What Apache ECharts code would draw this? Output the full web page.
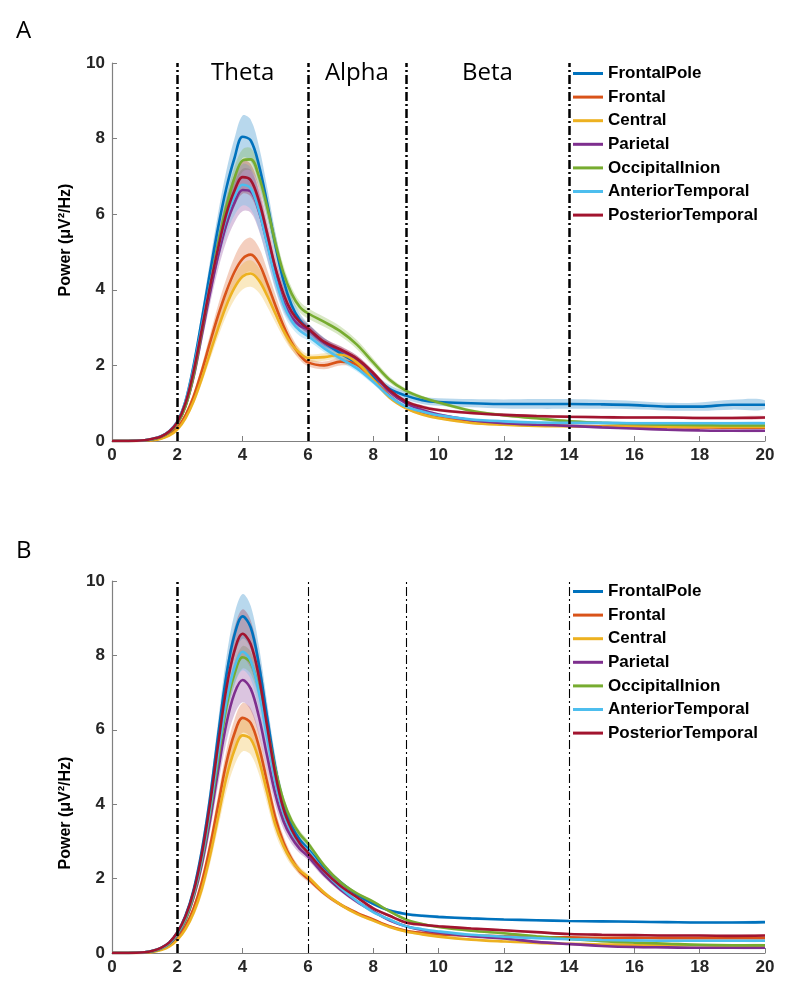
<!DOCTYPE html>
<html>
<head>
<meta charset="utf-8">
<script src="https://cdn.jsdelivr.net/npm/echarts@6/dist/echarts.min.js"></script>
<style>
  html, body { margin: 0; padding: 0; background: #fff; }
  #chart { width: 792px; height: 1002px; }
</style>
</head>
<body>
<div id="chart"></div>
<script>
// frequency grid (Hz)
const freqs = [0, 0.5, 1, 1.25, 1.5, 1.75, 2, 2.25, 2.5, 2.75, 3, 3.25, 3.5, 3.75, 4, 4.25, 4.5, 4.75, 5, 5.25, 5.5, 5.75, 6,
  6.5, 7, 7.5, 8, 8.5, 9, 9.5, 10, 11, 12, 13, 14, 15, 16, 17, 18, 19, 20];
const regions = ['FrontalPole', 'Frontal', 'Central', 'Parietal', 'OccipitalInion', 'AnteriorTemporal', 'PosteriorTemporal'];
const bandEdges = [2, 6, 9, 14];
const bandNames = ['Theta', 'Alpha', 'Beta'];

// panel A - mean power
const aFrontalPole = [0, 0, 0.02, 0.05, 0.12, 0.25, 0.5, 1.05, 2.0, 3.2, 4.45, 5.65, 6.68, 7.48, 8.05, 7.95, 7.3, 6.3, 5.2, 4.25, 3.6, 3.2, 2.97, 2.6, 2.32, 2.05, 1.7, 1.38, 1.2, 1.08, 1.03, 1.0, 0.98, 0.98, 0.98, 0.97, 0.95, 0.91, 0.91, 0.96, 0.96];
const aFrontal = [0, 0, 0.01, 0.03, 0.07, 0.17, 0.35, 0.68, 1.18, 1.85, 2.6, 3.32, 3.95, 4.47, 4.82, 4.93, 4.7, 4.18, 3.6, 3.05, 2.6, 2.28, 2.08, 2.0, 2.1, 2.02, 1.62, 1.2, 0.88, 0.72, 0.62, 0.5, 0.45, 0.42, 0.4, 0.39, 0.38, 0.37, 0.36, 0.35, 0.35];
const aCentral = [0, 0, 0.01, 0.02, 0.06, 0.14, 0.3, 0.6, 1.05, 1.65, 2.32, 2.98, 3.58, 4.05, 4.35, 4.43, 4.25, 3.85, 3.38, 2.92, 2.56, 2.33, 2.2, 2.22, 2.28, 2.08, 1.62, 1.15, 0.87, 0.7, 0.6, 0.48, 0.43, 0.4, 0.39, 0.38, 0.38, 0.37, 0.37, 0.37, 0.37];
const aParietal = [0, 0, 0.02, 0.05, 0.11, 0.23, 0.46, 0.92, 1.7, 2.8, 3.9, 4.9, 5.72, 6.3, 6.64, 6.6, 6.08, 5.25, 4.38, 3.7, 3.28, 3.05, 2.95, 2.6, 2.4, 2.17, 1.78, 1.3, 1.0, 0.82, 0.7, 0.55, 0.47, 0.43, 0.4, 0.36, 0.33, 0.3, 0.28, 0.27, 0.27];
const aOccipitalInion = [0, 0, 0.02, 0.05, 0.11, 0.23, 0.46, 0.92, 1.75, 2.9, 4.1, 5.22, 6.18, 6.95, 7.42, 7.45, 7.0, 6.2, 5.25, 4.45, 3.9, 3.55, 3.38, 3.15, 2.9, 2.55, 2.08, 1.62, 1.33, 1.15, 1.02, 0.8, 0.68, 0.6, 0.52, 0.48, 0.45, 0.43, 0.42, 0.41, 0.41];
const aAnteriorTemporal = [0, 0, 0.02, 0.06, 0.13, 0.26, 0.52, 1.05, 1.92, 3.02, 4.12, 5.1, 5.9, 6.47, 6.78, 6.68, 6.1, 5.22, 4.32, 3.62, 3.18, 2.92, 2.78, 2.45, 2.18, 1.92, 1.57, 1.18, 0.91, 0.78, 0.68, 0.57, 0.52, 0.49, 0.48, 0.48, 0.47, 0.47, 0.47, 0.47, 0.47];
const aPosteriorTemporal = [0, 0, 0.02, 0.06, 0.12, 0.25, 0.5, 1.0, 1.85, 2.95, 4.08, 5.1, 6.0, 6.62, 6.98, 6.9, 6.35, 5.5, 4.6, 3.9, 3.42, 3.15, 2.98, 2.62, 2.42, 2.18, 1.8, 1.35, 1.05, 0.9, 0.82, 0.74, 0.69, 0.66, 0.64, 0.63, 0.62, 0.62, 0.61, 0.61, 0.62];

// panel A - standard error (shaded)
const aFrontalPoleSem = [0, 0, 0, 0.01, 0.02, 0.03, 0.05, 0.09, 0.15, 0.22, 0.3, 0.38, 0.46, 0.52, 0.56, 0.55, 0.5, 0.42, 0.34, 0.27, 0.22, 0.18, 0.15, 0.13, 0.12, 0.11, 0.1, 0.1, 0.1, 0.1, 0.1, 0.11, 0.12, 0.13, 0.13, 0.12, 0.11, 0.1, 0.11, 0.13, 0.12];
const aFrontalSem = [0, 0, 0, 0.01, 0.01, 0.02, 0.04, 0.06, 0.1, 0.15, 0.21, 0.28, 0.34, 0.4, 0.44, 0.45, 0.42, 0.36, 0.29, 0.22, 0.17, 0.13, 0.1, 0.1, 0.1, 0.09, 0.07, 0.05, 0.04, 0.04, 0.03, 0.03, 0.03, 0.03, 0.03, 0.03, 0.03, 0.03, 0.03, 0.03, 0.03];
const aCentralSem = [0, 0, 0, 0.01, 0.01, 0.02, 0.03, 0.05, 0.08, 0.12, 0.17, 0.22, 0.27, 0.31, 0.34, 0.35, 0.33, 0.29, 0.24, 0.19, 0.15, 0.12, 0.1, 0.1, 0.1, 0.09, 0.07, 0.05, 0.04, 0.04, 0.03, 0.03, 0.03, 0.03, 0.03, 0.03, 0.03, 0.03, 0.03, 0.03, 0.03];
const aParietalSem = [0, 0, 0, 0.01, 0.02, 0.03, 0.05, 0.08, 0.14, 0.21, 0.29, 0.37, 0.45, 0.52, 0.56, 0.56, 0.51, 0.43, 0.33, 0.25, 0.19, 0.15, 0.13, 0.11, 0.1, 0.09, 0.07, 0.06, 0.05, 0.05, 0.04, 0.04, 0.03, 0.03, 0.03, 0.03, 0.03, 0.03, 0.03, 0.03, 0.03];
const aOccipitalInionSem = [0, 0, 0, 0.01, 0.01, 0.02, 0.03, 0.06, 0.1, 0.15, 0.2, 0.25, 0.28, 0.3, 0.3, 0.3, 0.28, 0.26, 0.23, 0.2, 0.17, 0.15, 0.14, 0.13, 0.13, 0.12, 0.1, 0.08, 0.06, 0.05, 0.05, 0.04, 0.04, 0.04, 0.04, 0.04, 0.04, 0.04, 0.04, 0.04, 0.04];
const aAnteriorTemporalSem = [0, 0, 0, 0.01, 0.02, 0.03, 0.05, 0.08, 0.13, 0.2, 0.28, 0.36, 0.43, 0.5, 0.55, 0.55, 0.5, 0.42, 0.32, 0.24, 0.18, 0.14, 0.12, 0.1, 0.09, 0.08, 0.07, 0.06, 0.05, 0.05, 0.04, 0.04, 0.04, 0.04, 0.04, 0.04, 0.04, 0.04, 0.04, 0.04, 0.04];
const aPosteriorTemporalSem = [0, 0, 0, 0.01, 0.02, 0.03, 0.05, 0.08, 0.13, 0.2, 0.27, 0.33, 0.38, 0.42, 0.44, 0.43, 0.4, 0.34, 0.27, 0.21, 0.17, 0.14, 0.12, 0.1, 0.09, 0.08, 0.07, 0.06, 0.05, 0.05, 0.04, 0.04, 0.04, 0.04, 0.04, 0.04, 0.04, 0.04, 0.04, 0.04, 0.04];

// panel B - mean power
const bFrontalPole = [0, 0, 0.02, 0.06, 0.14, 0.28, 0.55, 1.0, 1.7, 2.75, 4.15, 5.85, 7.45, 8.55, 9.05, 8.75, 7.75, 6.35, 5.0, 4.0, 3.42, 3.05, 2.8, 2.3, 1.9, 1.57, 1.32, 1.14, 1.05, 1.0, 0.97, 0.93, 0.9, 0.88, 0.86, 0.85, 0.84, 0.83, 0.82, 0.82, 0.83];
const bFrontal = [0, 0, 0.01, 0.04, 0.1, 0.2, 0.4, 0.72, 1.2, 1.9, 2.85, 3.98, 5.1, 5.9, 6.32, 6.18, 5.55, 4.6, 3.65, 2.98, 2.52, 2.2, 2.0, 1.6, 1.3, 1.08, 0.9, 0.72, 0.6, 0.54, 0.5, 0.47, 0.45, 0.43, 0.42, 0.41, 0.41, 0.4, 0.4, 0.4, 0.4];
const bCentral = [0, 0, 0.01, 0.03, 0.08, 0.17, 0.35, 0.64, 1.08, 1.72, 2.6, 3.65, 4.7, 5.45, 5.85, 5.75, 5.18, 4.32, 3.45, 2.88, 2.48, 2.22, 2.05, 1.62, 1.3, 1.05, 0.87, 0.7, 0.58, 0.5, 0.44, 0.36, 0.31, 0.27, 0.25, 0.23, 0.22, 0.21, 0.21, 0.2, 0.2];
const bParietal = [0, 0, 0.02, 0.05, 0.12, 0.24, 0.48, 0.88, 1.5, 2.38, 3.55, 4.9, 6.15, 6.98, 7.34, 7.1, 6.35, 5.3, 4.28, 3.55, 3.1, 2.8, 2.6, 2.1, 1.7, 1.38, 1.12, 0.88, 0.72, 0.62, 0.55, 0.45, 0.39, 0.3, 0.24, 0.19, 0.16, 0.15, 0.14, 0.14, 0.14];
const bOccipitalInion = [0, 0, 0.02, 0.05, 0.12, 0.25, 0.5, 0.9, 1.55, 2.48, 3.75, 5.2, 6.6, 7.5, 7.95, 7.8, 7.1, 6.05, 4.95, 4.1, 3.55, 3.2, 2.95, 2.35, 1.9, 1.6, 1.38, 1.12, 0.9, 0.78, 0.7, 0.6, 0.53, 0.45, 0.38, 0.32, 0.28, 0.25, 0.22, 0.21, 0.21];
const bAnteriorTemporal = [0, 0, 0.02, 0.06, 0.13, 0.26, 0.52, 0.95, 1.6, 2.55, 3.85, 5.35, 6.75, 7.68, 8.1, 7.85, 7.0, 5.8, 4.62, 3.78, 3.25, 2.95, 2.75, 2.2, 1.75, 1.4, 1.1, 0.9, 0.72, 0.64, 0.58, 0.49, 0.44, 0.4, 0.37, 0.35, 0.34, 0.33, 0.33, 0.33, 0.33];
const bPosteriorTemporal = [0, 0, 0.02, 0.06, 0.14, 0.28, 0.55, 0.98, 1.65, 2.65, 4.0, 5.6, 7.1, 8.12, 8.58, 8.3, 7.42, 6.1, 4.82, 3.88, 3.32, 2.95, 2.7, 2.2, 1.8, 1.5, 1.2, 1.0, 0.82, 0.76, 0.72, 0.66, 0.61, 0.56, 0.51, 0.49, 0.48, 0.47, 0.47, 0.46, 0.47];

// panel B - standard error (shaded)
const bFrontalPoleSem = [0, 0, 0, 0.01, 0.02, 0.03, 0.05, 0.08, 0.13, 0.2, 0.28, 0.38, 0.48, 0.56, 0.6, 0.58, 0.5, 0.4, 0.3, 0.22, 0.17, 0.13, 0.11, 0.08, 0.06, 0.05, 0.04, 0.04, 0.04, 0.04, 0.04, 0.03, 0.03, 0.03, 0.03, 0.03, 0.03, 0.03, 0.03, 0.03, 0.03];
const bFrontalSem = [0, 0, 0, 0.01, 0.01, 0.02, 0.04, 0.06, 0.1, 0.15, 0.21, 0.28, 0.34, 0.38, 0.4, 0.39, 0.35, 0.29, 0.22, 0.17, 0.13, 0.1, 0.08, 0.06, 0.05, 0.04, 0.03, 0.03, 0.03, 0.03, 0.02, 0.02, 0.02, 0.02, 0.02, 0.02, 0.02, 0.02, 0.02, 0.02, 0.02];
const bCentralSem = [0, 0, 0, 0.01, 0.01, 0.02, 0.04, 0.06, 0.1, 0.16, 0.22, 0.29, 0.36, 0.41, 0.43, 0.42, 0.37, 0.3, 0.23, 0.17, 0.13, 0.1, 0.08, 0.06, 0.05, 0.04, 0.03, 0.03, 0.03, 0.03, 0.02, 0.02, 0.02, 0.02, 0.02, 0.02, 0.02, 0.02, 0.02, 0.02, 0.02];
const bParietalSem = [0, 0, 0, 0.01, 0.02, 0.03, 0.05, 0.08, 0.13, 0.2, 0.29, 0.39, 0.49, 0.57, 0.6, 0.58, 0.5, 0.4, 0.3, 0.22, 0.16, 0.12, 0.1, 0.08, 0.06, 0.05, 0.04, 0.04, 0.03, 0.03, 0.03, 0.03, 0.03, 0.03, 0.03, 0.03, 0.03, 0.03, 0.03, 0.03, 0.03];
const bOccipitalInionSem = [0, 0, 0, 0.01, 0.01, 0.02, 0.03, 0.05, 0.08, 0.12, 0.17, 0.22, 0.26, 0.29, 0.3, 0.3, 0.27, 0.23, 0.18, 0.14, 0.11, 0.09, 0.08, 0.06, 0.05, 0.04, 0.04, 0.03, 0.03, 0.03, 0.03, 0.03, 0.03, 0.03, 0.03, 0.03, 0.03, 0.03, 0.03, 0.03, 0.03];
const bAnteriorTemporalSem = [0, 0, 0, 0.01, 0.02, 0.03, 0.05, 0.07, 0.11, 0.17, 0.24, 0.32, 0.4, 0.47, 0.5, 0.49, 0.43, 0.35, 0.26, 0.19, 0.14, 0.11, 0.09, 0.07, 0.05, 0.04, 0.04, 0.03, 0.03, 0.03, 0.03, 0.03, 0.03, 0.03, 0.03, 0.03, 0.03, 0.03, 0.03, 0.03, 0.03];
const bPosteriorTemporalSem = [0, 0, 0, 0.01, 0.02, 0.03, 0.05, 0.09, 0.14, 0.22, 0.31, 0.42, 0.53, 0.62, 0.66, 0.64, 0.55, 0.44, 0.33, 0.24, 0.18, 0.14, 0.11, 0.08, 0.06, 0.05, 0.04, 0.04, 0.04, 0.04, 0.03, 0.03, 0.03, 0.03, 0.03, 0.03, 0.03, 0.03, 0.03, 0.03, 0.03];

// MATLAB default line colours
const regionColors = ['#0072BD', '#D95319', '#EDB120', '#7E2F8E', '#77AC30', '#4DBEEE', '#A2142F'];

const panels = [
  {
    means: [aFrontalPole, aFrontal, aCentral, aParietal, aOccipitalInion, aAnteriorTemporal, aPosteriorTemporal],
    sems: [aFrontalPoleSem, aFrontalSem, aCentralSem, aParietalSem, aOccipitalInionSem, aAnteriorTemporalSem, aPosteriorTemporalSem],
    edgeWidths: [2.5, 2.5, 2.5, 2.5],
    top: 63, height: 378, nameShift: [0, 0, 0, 24]
  },
  {
    means: [bFrontalPole, bFrontal, bCentral, bParietal, bOccipitalInion, bAnteriorTemporal, bPosteriorTemporal],
    sems: [bFrontalPoleSem, bFrontalSem, bCentralSem, bParietalSem, bOccipitalInionSem, bAnteriorTemporalSem, bPosteriorTemporalSem],
    edgeWidths: [2.5, 1.1, 1.1, 1.1],
    top: 581, height: 372, nameShift: [0, 92, 0, 0]
  }
];

const FONT = 'Liberation Sans';

function bandSeries(p, mean, sem, color) {
  // shaded mean +/- sem region, drawn as one polygon through the axis scales
  const idx = freqs.map((f, i) => i).filter(i => sem[i] > 0);
  return {
    type: 'custom',
    xAxisIndex: p, yAxisIndex: p,
    silent: true, z: 1, clip: true,
    data: [[freqs[idx[0]], mean[idx[0]]]],
    renderItem: function (params, api) {
      const upper = idx.map(i => api.coord([freqs[i], mean[i] + sem[i]]));
      const lower = idx.map(i => api.coord([freqs[i], Math.max(mean[i] - sem[i], 0)])).reverse();
      return {
        type: 'polygon',
        shape: { points: upper.concat(lower), smooth: 0.35 },
        style: { fill: color, opacity: 0.28 }
      };
    }
  };
}

const grids = [], xAxes = [], yAxes = [], series = [], legends = [], titles = [];

panels.forEach((pan, p) => {
  grids.push({ left: 112, width: 653, top: pan.top, height: pan.height, outerBoundsMode: 'none' });
  xAxes.push({
    type: 'value', gridIndex: p, min: 0, max: 20, interval: 2,
    axisLine: { lineStyle: { color: '#808080', width: 1.2 } },
    axisTick: { inside: true, length: 5, lineStyle: { color: '#808080' } },
    axisLabel: { margin: 6, fontSize: 17, fontWeight: 'bold', fontFamily: FONT, color: '#262626' },
    splitLine: { show: false }
  });
  yAxes.push({
    type: 'value', gridIndex: p, min: 0, max: 10, interval: 2,
    name: 'Power (μV²/Hz)', nameLocation: 'middle', nameGap: 38,
    nameTextStyle: { fontSize: 16, fontWeight: 'bold', fontFamily: FONT, color: '#000', padding: pan.nameShift },
    axisLine: { show: true, lineStyle: { color: '#808080', width: 1.2 } },
    axisTick: { show: true, inside: true, length: 5, lineStyle: { color: '#808080' } },
    axisLabel: { margin: 7, fontSize: 17, fontWeight: 'bold', fontFamily: FONT, color: '#262626' },
    splitLine: { show: false }
  });

  regions.forEach((r, i) => {
    series.push(bandSeries(p, pan.means[i], pan.sems[i], regionColors[i]));
  });
  regions.forEach((r, i) => {
    series.push({
      type: 'line', name: r,
      xAxisIndex: p, yAxisIndex: p,
      data: freqs.map((f, k) => [f, pan.means[i][k]]),
      showSymbol: false, smooth: 0.35,
      lineStyle: { color: regionColors[i], width: 2.6 },
      itemStyle: { color: regionColors[i] },
      z: 3, silent: true
    });
  });

  // dash-dot band boundaries (and band names on panel A)
  const edgeSeries = {
    type: 'line', name: 'edges' + p, xAxisIndex: p, yAxisIndex: p, data: [], z: 4, silent: true,
    markLine: {
      silent: true, symbol: ['none', 'none'], label: { show: false },
      data: bandEdges.map((e, k) => ({
        xAxis: e,
        lineStyle: { color: '#000', width: pan.edgeWidths[k], type: [9, 3, 2, 3], opacity: 1 }
      }))
    }
  };
  if (p === 0) {
    edgeSeries.markArea = {
      silent: true,
      itemStyle: { color: 'rgba(0,0,0,0)' },
      label: { show: true, position: 'insideTop', distance: -2, fontSize: 24, fontFamily: 'Open Sans', color: '#000' },
      data: bandNames.map((n, k) => [{ name: n, xAxis: bandEdges[k] }, { xAxis: bandEdges[k + 1] }])
    };
  }
  series.push(edgeSeries);

  legends.push({
    data: regions, orient: 'vertical', left: 573, top: pan.top + 0.5,
    padding: 0, itemWidth: 30, itemHeight: 3, itemGap: 3.6, icon: 'rect', selectedMode: false,
    textStyle: { fontSize: 17, fontWeight: 'bold', fontFamily: FONT, color: '#000', lineHeight: 20 }
  });
  titles.push({
    text: p === 0 ? 'A' : 'B', left: 16, top: p === 0 ? 19 : 539, padding: 0,
    textStyle: { fontSize: 24, fontWeight: 'normal', fontFamily: 'Open Sans', color: '#000' }
  });
});

const chart = echarts.init(document.getElementById('chart'), null, { renderer: 'canvas' });
chart.setOption({
  animation: false,
  backgroundColor: '#fff',
  textStyle: { fontFamily: FONT },
  title: titles,
  legend: legends,
  grid: grids,
  xAxis: xAxes,
  yAxis: yAxes,
  series: series
});
</script>
</body>
</html>
